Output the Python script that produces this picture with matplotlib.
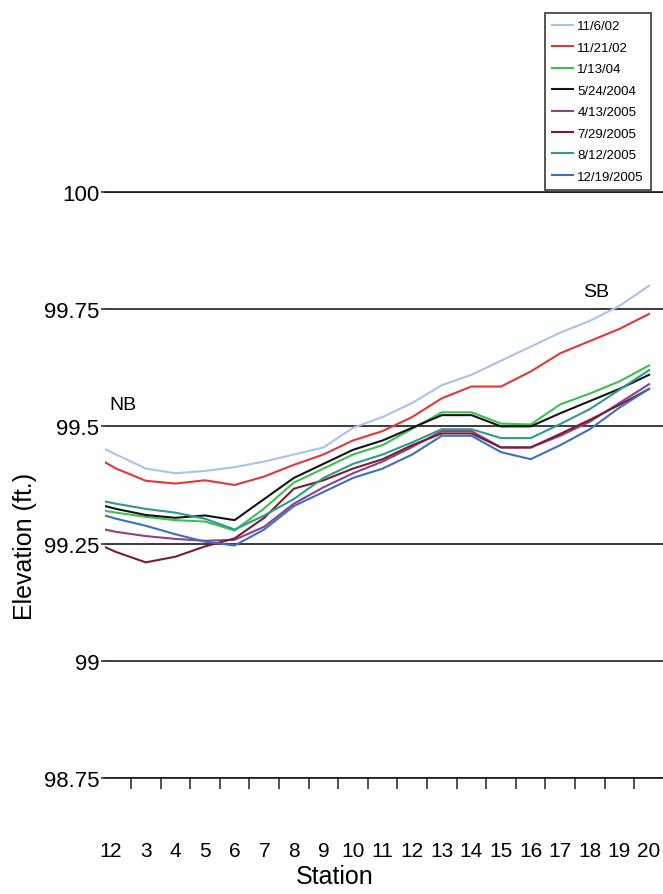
import matplotlib
matplotlib.use("Agg")
import matplotlib.pyplot as plt
import numpy as np

# survey stations along the reach
stations = list(range(1, 21))
station_labels = [str(s) for s in stations]

# water surface elevations (ft.)
ws_110602 = [99.471, 99.44, 99.41, 99.40, 99.405, 99.413, 99.425, 99.44, 99.455, 99.497,
             99.52, 99.55, 99.588, 99.61, 99.64, 99.67, 99.70, 99.725, 99.757, 99.80]
ws_112102 = [99.446, 99.41, 99.384, 99.378, 99.385, 99.375, 99.393, 99.418, 99.44, 99.47,
             99.49, 99.52, 99.56, 99.585, 99.585, 99.617, 99.656, 99.682, 99.708, 99.74]
ws_011304 = [99.326, 99.316, 99.307, 99.30, 99.297, 99.278, 99.325, 99.38, 99.41, 99.44,
             99.46, 99.495, 99.53, 99.53, 99.506, 99.504, 99.547, 99.57, 99.596, 99.63]
ws_052404 = [99.34, 99.324, 99.311, 99.305, 99.31, 99.30, 99.345, 99.39, 99.42, 99.45,
             99.47, 99.497, 99.524, 99.524, 99.50, 99.50, 99.528, 99.554, 99.58, 99.61]
ws_041305 = [99.288, 99.275, 99.266, 99.26, 99.256, 99.258, 99.286, 99.335, 99.37, 99.40,
             99.425, 99.456, 99.49, 99.49, 99.455, 99.455, 99.48, 99.51, 99.55, 99.59]
ws_072905 = [99.26, 99.232, 99.21, 99.222, 99.244, 99.261, 99.305, 99.367, 99.385, 99.41,
             99.43, 99.46, 99.485, 99.485, 99.455, 99.455, 99.484, 99.514, 99.546, 99.58]
ws_081205 = [99.348, 99.335, 99.324, 99.316, 99.303, 99.28, 99.31, 99.345, 99.39, 99.42,
             99.44, 99.466, 99.494, 99.494, 99.475, 99.475, 99.505, 99.537, 99.578, 99.62]
ws_121905 = [99.321, 99.303, 99.288, 99.27, 99.254, 99.246, 99.28, 99.33, 99.36, 99.39,
             99.41, 99.44, 99.48, 99.48, 99.445, 99.43, 99.46, 99.494, 99.54, 99.58]

dates = ["11/6/02", "11/21/02", "1/13/04", "5/24/2004",
         "4/13/2005", "7/29/2005", "8/12/2005", "12/19/2005"]
series = [ws_110602, ws_112102, ws_011304, ws_052404,
          ws_041305, ws_072905, ws_081205, ws_121905]
colors = ["#a9c3e8", "#e0383a", "#3fbf4c", "#151515",
          "#8e3f8e", "#7b1e2c", "#2b9c8c", "#3b6fc4"]

yticks = [98.75, 99, 99.25, 99.5, 99.75, 100]
ytick_labels = ["98.75", "99", "99.25", "99.5", "99.75", "100"]

plt.rcParams["font.family"] = ["Liberation Sans", "DejaVu Sans"]

fig = plt.figure(figsize=(6.63, 8.95), dpi=100)
ax = fig.add_axes([0.158, 0.1296, 0.842, 0.6548])

for vals, lab, c in zip(series, dates, colors):
    ax.plot(stations, vals, color=c, lw=1.5, label=lab)

ax.set_xlim(1.615, 20.47)
ax.set_ylim(98.75, 100)

# labels sit between the boundary ticks; "1" is squeezed against the axis
label_pos = [1.62] + stations[1:]
ax.set_xticks(label_pos)
ax.set_xticklabels(station_labels, fontsize=15)
ax.set_xticks(np.arange(2.5, 20, 1.0), minor=True)
ax.tick_params(axis="x", which="major", length=0, pad=45)
ax.tick_params(axis="x", which="minor", length=8, width=1.1, color="#222")

ax.set_yticks(yticks)
ax.set_yticklabels(ytick_labels, fontsize=16)
ax.tick_params(axis="y", length=3, width=1.1, pad=1, color="#222")

ax.grid(axis="y", color="#1a1a1a", lw=1.2)
for side in ["left", "right"]:
    ax.spines[side].set_visible(False)
for side in ["top", "bottom"]:
    ax.spines[side].set_color("#1a1a1a")
    ax.spines[side].set_linewidth(1.2)

ax.set_xlabel("Station", fontsize=18, va="center")
ax.xaxis.set_label_coords(0.412, -0.167)
ax.set_ylabel("Elevation (ft.)", fontsize=18, va="center")
ax.yaxis.set_label_coords(-0.143, 0.396)

ax.text(2.22, 99.546, "NB", fontsize=14, ha="center", va="center")
ax.text(18.2, 99.787, "SB", fontsize=14, ha="center", va="center")

leg = fig.legend(loc="upper right", bbox_to_anchor=(0.992, 0.992),
                 fontsize=9.5, handlelength=1.6, handletextpad=0.3,
                 labelspacing=0.7, borderpad=0.55, frameon=True, fancybox=False)
leg.get_frame().set_edgecolor("#1a1a1a")
leg.get_frame().set_linewidth(1.3)

fig.savefig("out.png", dpi=100)
